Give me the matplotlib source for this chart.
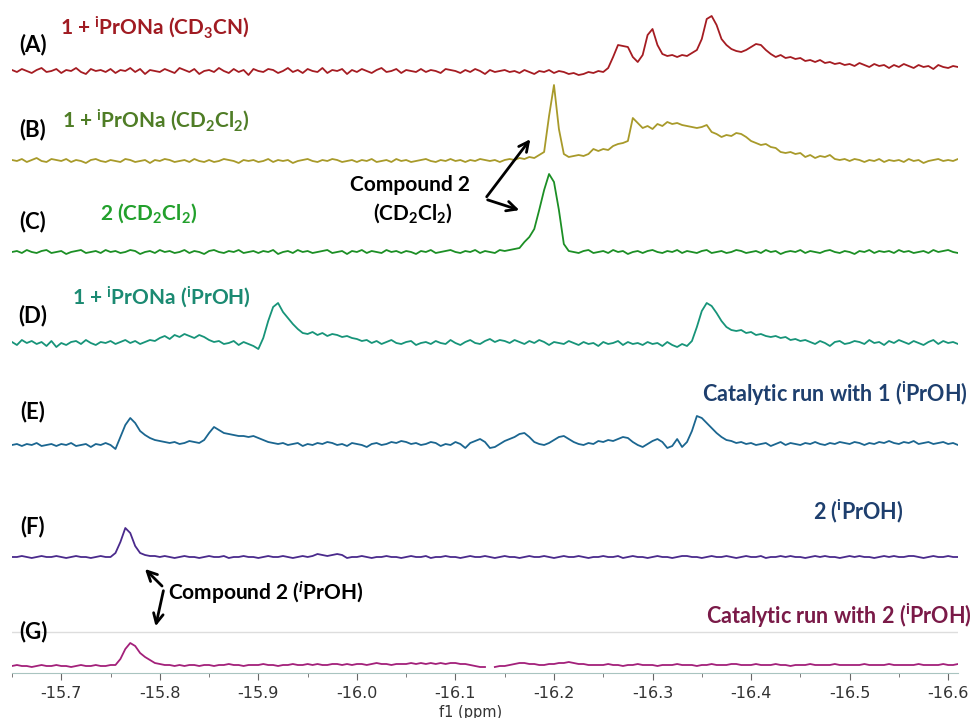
import numpy as np
import matplotlib
matplotlib.use("Agg")
import matplotlib.pyplot as plt
from matplotlib.ticker import MultipleLocator

# Stacked 1H NMR traces (hydride region), heights
# on a 0.005 ppm grid starting at -15.65 ppm.
start_ppm = -15.65
step_ppm = 0.005

spec_a = [1,-1,2,0,-2,1,3,-1,0,2, -2,1,0,3,-1,-3,2,0,1,-1, 2,-2,1,0,3,-1,2,-3,1,0,
          -1,2,0,-2,3,1,-1,2,-3,0, 1,-1,3,0,-2,2,-1,1,-4,2, 0,-1,2,1,-2,0,3,-1,1,-2,
          2,0,-1,3,-2,1,0,2,-3,1, -1,2,0,-2,1,3,-1,0,2,-2, 1,0,-1,2,-1,1,0,-2,2,1,
          0,-2,1,-1,2,0,-3,1,-1,0, 1,-1,0,-2,1,-1,-3,0,-1,1, -2,0,-1,-3,-2,-4,-3,-1,-2,0,
          -1,3,14,26,25,24,14,9,16,36, 42,26,17,15,16,14,16,15,18,21, 32,52,55,46,32,26,22,20,19,21,
          24,27,26,21,17,14,16,13,14,12, 13,10,11,9,11,8,9,7,8,6, 7,5,8,6,4,7,5,6,3,6,
          4,7,5,3,6,4,5,2,6,4, 3,5,4,5]
spec_b = [1,0,2,-1,1,3,0,-1,2,1, 0,2,-1,1,0,-2,1,2,0,-1, 1,0,-1,2,1,-1,0,1,-2,1,
          0,2,1,-1,0,1,-1,2,0,-1, 1,-1,0,2,1,0,-2,1,0,1, -1,0,2,-1,1,0,1,-2,0,1,
          2,0,-1,1,0,2,1,-1,0,1, -1,1,0,2,-1,0,1,-1,2,0, 1,-1,0,1,2,0,-1,1,0,2,
          0,1,-1,1,0,2,1,0,1,-1, 1,2,1,3,2,4,3,6,9,45, 76,32,7,4,5,6,5,7,12,10,
          12,11,15,17,18,20,43,38,33,35, 32,37,35,39,37,38,36,35,34,33, 34,36,29,27,24,26,25,28,27,24,
          20,18,16,17,14,13,9,8,9,7, 8,4,6,3,5,4,6,2,1,2, 0,2,1,-1,1,0,2,-1,1,0,
          1,-1,2,0,1,-2,0,1,2,0, 1,0,2,1]
spec_c = [0,1,-1,2,0,-1,1,2,-1,0, 1,-2,0,1,2,-1,0,1,-1,2, 0,1,-1,0,2,1,-2,0,1,-1,
          2,0,1,-1,0,2,-1,1,0,-2, 1,2,0,-1,1,0,2,-1,0,1, -1,1,0,2,-2,0,1,-1,2,0,
          1,-1,0,1,2,-1,0,1,-2,1, 0,2,-1,1,0,-1,2,0,1,-1, 1,0,-2,1,0,2,-1,0,1,2,
          0,-1,1,0,2,-1,1,0,-1,2, 1,2,3,4,10,15,23,42,62,78, 70,42,8,1,0,-1,1,2,-1,0,
          1,-1,2,0,1,-2,0,1,-1,1, 2,0,-1,1,0,2,-1,1,0,-1, 1,2,-1,0,1,-1,0,2,1,-1,
          0,1,-1,2,0,1,-2,0,1,0, 2,-1,1,0,-1,1,2,0,-1,1, 0,-2,1,0,2,-1,1,0,1,-1,
          2,0,1,-1,0,1,-1,2,0,1, 2,0,-1,2]
spec_d = [1,-2,3,0,2,-1,1,-3,2,-4, 0,-2,1,2,-1,3,0,-2,1,0, 2,-1,1,3,0,2,-1,1,3,2,
          5,7,4,8,6,9,7,5,8,6, 3,1,2,-1,0,2,-2,1,-1,-3, -6,5,22,36,40,31,25,19,14,10,
          9,11,8,10,7,9,8,6,7,5, 4,2,3,0,2,-1,1,3,0,-1, 1,2,-2,0,1,-1,2,0,-1,3,
          0,-2,1,3,0,-1,2,4,1,3, 2,0,3,1,-1,2,0,3,1,-2, 1,0,-1,2,0,-2,1,-1,0,-3,
          1,-1,0,2,-2,1,-1,0,-2,1, -1,0,-3,1,-2,-4,-1,-3,2,16, 32,40,37,30,22,16,13,12,13,10,
          11,8,9,7,6,7,5,6,3,4, 2,3,1,-1,2,0,-3,1,2,-1, 0,2,1,-1,3,0,1,-2,2,0,
          3,1,-1,2,0,-2,1,3,-1,2, 0,1,-1,2]
spec_e = [0,1,-1,1,0,2,-1,0,1,-1, 1,0,2,-1,0,1,-2,1,0,2, 0,-4,8,20,27,22,14,10,7,5,
          4,3,2,3,1,2,4,3,2,5, 12,18,15,12,11,10,9,9,8,9, 7,5,3,2,1,2,0,1,2,-1,
          1,0,2,1,3,2,0,1,-1,2, 1,0,-2,1,2,0,1,3,2,4, 3,1,2,0,1,3,2,-1,1,0,
          3,1,-3,2,4,6,3,-3,-2,1, 4,6,8,11,12,8,3,1,0,2, 5,8,9,6,3,1,0,2,1,4,
          3,5,4,6,8,7,3,0,-2,1, 4,6,3,-3,-1,6,-2,3,14,29, 27,22,17,12,8,5,4,2,3,1,
          2,0,1,2,-1,1,3,0,2,1, 0,2,1,3,1,0,2,1,3,2, 1,3,2,0,2,1,3,2,4,2,
          1,3,2,4,1,2,3,1,2,3, 1,2,0,1]
spec_f = [0,0,1,0,-1,0,1,0,0,1, 0,-1,0,1,0,0,-1,0,1,0, 0,4,15,29,24,11,4,2,1,1,
          0,1,0,-1,0,1,0,0,-1,0, 1,0,0,1,-1,0,0,1,0,0, -1,0,1,0,0,1,0,-1,0,1,
          0,1,3,2,1,2,3,2,-1,0, 0,1,0,-1,0,0,1,0,0,-1, 0,1,0,0,1,-1,0,0,1,0,
          0,-1,0,1,0,0,1,0,-1,0, 1,0,0,-1,0,1,0,0,1,0, -1,0,1,0,0,1,0,-1,0,0,
          1,0,0,1,-1,0,1,0,0,-1, 0,1,0,0,-1,0,1,1,0,0, -1,0,1,0,0,1,0,-1,0,1,
          0,0,1,-1,0,0,1,0,1,0, 0,-1,0,1,0,1,0,0,-1,0, 1,0,1,0,0,-1,0,1,0,1,
          0,0,1,1,0,-1,0,1,0,0, 1,0,0,1]
nan = np.nan
spec_g = [0,1,0,0,-1,0,1,0,0,1, 0,0,-1,0,1,0,0,1,0,0, 1,1,7,17,23,20,13,9,6,3,
          2,1,1,0,1,0,1,1,0,1, 1,0,1,1,2,1,1,0,1,1, 1,2,1,1,0,1,1,2,1,1,
          2,1,2,1,1,2,2,1,2,1, 2,2,1,2,3,2,2,1,2,2, 2,3,2,3,2,3,2,3,2,3,
          3,2,2,1,0,-1,-1,nan,-1,0, 0,1,2,3,3,2,2,1,1,2, 2,3,3,4,3,2,2,1,1,1,
          1,2,1,1,0,1,1,2,1,1, 1,0,1,1,1,2,1,1,1,0, 1,1,2,1,1,1,2,2,1,1,
          1,2,1,1,1,2,1,1,0,1, 1,1,2,1,1,1,1,2,1,1, 1,1,1,2,1,1,1,1,2,1,
          1,1,1,1,2,1,1,1,1,2, 1,1,2,1]

spectra = [spec_a, spec_b, spec_c, spec_d, spec_e, spec_f, spec_g]
panel_tags = ["(A)", "(B)", "(C)", "(D)", "(E)", "(F)", "(G)"]
# vertical stacking offsets (pixels above the axis line)
offsets = [602, 512, 421, 330, 228, 116, 7]
line_colors = ["#a51c22", "#a89a2a", "#1c8f25", "#179479", "#1b6690", "#4a2a8c", "#a3207a"]

# sample captions: text, colour, left x / centre y in pixels from top-left
captions = [
    ("1 + $^{\\mathrm{i}}$PrONa (CD$_3$CN)", "#a01b22", 60, 27),
    ("1 + $^{\\mathrm{i}}$PrONa (CD$_2$Cl$_2$)", "#4f7d26", 62, 120),
    ("2 (CD$_2$Cl$_2$)", "#22a02c", 100, 213),
    ("1 + $^{\\mathrm{i}}$PrONa ($^{\\mathrm{i}}$PrOH)", "#1b8a72", 72, 297),
    ("Catalytic run with 1 ($^{\\mathrm{i}}$PrOH)", "#1e3f6e", 702, 394),
    ("2 ($^{\\mathrm{i}}$PrOH)", "#1e3f6e", 813, 511),
    ("Catalytic run with 2 ($^{\\mathrm{i}}$PrOH)", "#7a1a48", 706, 616),
]
tag_y = [45, 130, 222, 316, 412, 527, 632]

plt.rcParams["mathtext.fontset"] = "custom"
plt.rcParams["mathtext.rm"] = "Lato:bold"
plt.rcParams["mathtext.it"] = "Lato:bold:italic"
plt.rcParams["mathtext.bf"] = "Lato:bold"

W, H = 980, 718
fig = plt.figure(figsize=(W / 100, H / 100), dpi=100)
ax = fig.add_axes([12 / W, 45 / H, 946 / W, 673 / H])

for spec, off, col in zip(spectra, offsets, line_colors):
    h = np.array(spec, dtype=float)
    ppm = start_ppm - step_ppm * np.arange(len(h))
    ax.plot(ppm, h + off, color=col, lw=1.3)

# light separator line above trace G
ax.axhline(41, color="#dddddd", lw=1)

ax.set_xlim(-15.65, -16.61)
ax.set_ylim(0, 673)
ax.set_yticks([])
for s in ["left", "right", "top"]:
    ax.spines[s].set_visible(False)
ax.spines["bottom"].set_color("#a9c4c0")
ax.xaxis.set_major_locator(MultipleLocator(0.1))
ax.xaxis.set_minor_locator(MultipleLocator(0.05))
ax.xaxis.set_major_formatter(matplotlib.ticker.FormatStrFormatter("%.1f"))
ax.tick_params(axis="x", which="major", length=5, color="#666666", labelsize=11.5,
               labelcolor="#333333", pad=4)
ax.tick_params(axis="x", which="minor", length=3, color="#666666")
ax.patch.set_alpha(0)

fig.text(471 / W, 1 - 712 / H, "f1 (ppm)", ha="center", va="center", fontsize=10.5,
         color="#333333")


def fxy(x, y):
    return (x / W, 1 - y / H)


for tag, y in zip(panel_tags, tag_y):
    fig.text(*fxy(33, y), tag, ha="center", va="center", fontsize=16,
             fontweight="bold", family="Lato", color="black")

for text, col, x, y in captions:
    size = 15.5 if x > 600 else 15
    fig.text(*fxy(x, y), text, ha="left", va="center", fontsize=size,
             fontweight="bold", family="Lato", color=col)

fig.text(*fxy(410, 185), "Compound 2", ha="center", va="center", fontsize=15,
         fontweight="bold", family="Lato")
fig.text(*fxy(413, 213), "(CD$_2$Cl$_2$)", ha="center", va="center", fontsize=15,
         fontweight="bold", family="Lato")
fig.text(*fxy(168, 593), "Compound 2 ($^{\\mathit{i}}$PrOH)", ha="left", va="center",
         fontsize=15, fontweight="bold", family="Lato")

arrow_kw = dict(arrowstyle="->,head_length=0.7,head_width=0.35", color="black", lw=2)
for tail, head in [((485, 199), (532, 137)), ((485, 199), (522, 211)),
                   ((164, 588), (143, 567)), ((164, 588), (155, 629))]:
    ax.annotate("", xy=fxy(*head), xytext=fxy(*tail), xycoords="figure fraction",
                textcoords="figure fraction", arrowprops=arrow_kw)

fig.savefig("out.png", dpi=100)
